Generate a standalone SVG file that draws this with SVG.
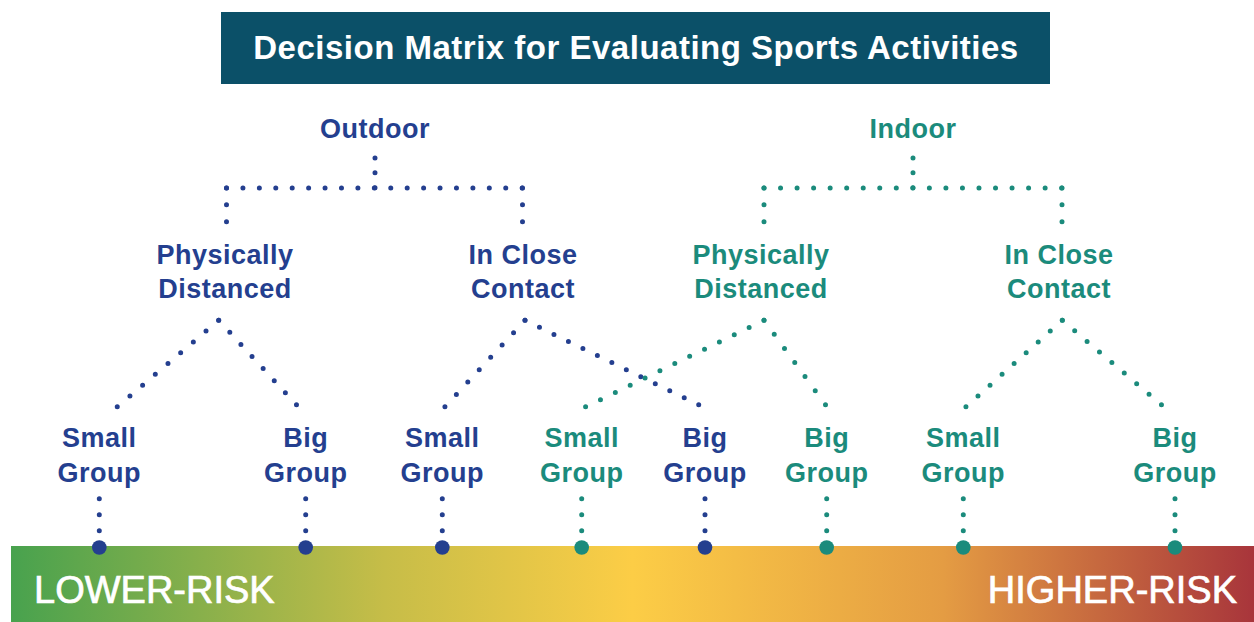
<svg xmlns="http://www.w3.org/2000/svg" width="1254" height="622" viewBox="0 0 1254 622">
<defs>
<linearGradient id="risk" x1="11" y1="0" x2="1254" y2="0" gradientUnits="userSpaceOnUse">
<stop offset="0" stop-color="#48a24e"/>
<stop offset="0.3" stop-color="#c6bd48"/>
<stop offset="0.5" stop-color="#fccd46"/>
<stop offset="0.75" stop-color="#e49c43"/>
<stop offset="1" stop-color="#a8353b"/>
</linearGradient>
</defs>
<style>
.lbl{font-family:"Liberation Sans",Arial,sans-serif;font-weight:bold;font-size:27px;text-anchor:middle;letter-spacing:0.5px}
.b{fill:#243f8f}
.t{fill:#1b8b7c}
.dl{fill:none;stroke-width:5;stroke-linecap:round;stroke-dasharray:0 1}
.sb{stroke:#243f8f}
.st{stroke:#1b8b7c}
.end-b{fill:#243f8f}
.end-t{fill:#1b8b7c}
.risk{font-family:"Liberation Sans",Arial,sans-serif;font-size:38px;fill:#ffffff;stroke:#ffffff;stroke-width:0.7px}
</style>
<rect width="1254" height="622" fill="#ffffff"/>
<g id="title">
<rect x="221" y="12" width="829" height="72" fill="#0b5068"/>
<text x="636" y="59" text-anchor="middle" font-family="'Liberation Sans',Arial,sans-serif" font-size="33" font-weight="bold" letter-spacing="0.5" fill="#ffffff">Decision Matrix for Evaluating Sports Activities</text>
</g>
<g id="risk-bar">
<rect x="11" y="546" width="1243" height="76" fill="url(#risk)"/>
<text class="risk" x="34" y="603">LOWER-RISK</text>
<text class="risk" x="1237" y="603" text-anchor="end">HIGHER-RISK</text>
</g>
<g id="connectors">
<path class="dl sb" d="M375 158 V188" pathLength="2.02"/>
<path class="dl sb" d="M226.5 188 H522.5" pathLength="18.02"/>
<path class="dl sb" d="M226.5 188 V222" pathLength="2.02"/>
<path class="dl sb" d="M522.5 188 V222" pathLength="2.02"/>
<path class="dl st" d="M913 158 V188" pathLength="2.02"/>
<path class="dl st" d="M764 188 H1062" pathLength="18.02"/>
<path class="dl st" d="M764 188 V222" pathLength="2.02"/>
<path class="dl st" d="M1062 188 V222" pathLength="2.02"/>
<path class="dl sb" d="M218.7 320.3 L117 407" pathLength="8.02"/>
<path class="dl sb" d="M218.7 320.3 L296.7 405" pathLength="7.02"/>
<path class="dl sb" d="M525 320.3 L444.7 407" pathLength="7.02"/>
<path class="dl sb" d="M525 320.3 L699 405" pathLength="12.02"/>
<path class="dl st" d="M764 320.3 L585.3 407" pathLength="12.02"/>
<path class="dl st" d="M764 320.3 L825.7 405" pathLength="6.02"/>
<path class="dl st" d="M1062.3 320.3 L965.7 407" pathLength="8.02"/>
<path class="dl st" d="M1062.3 320.3 L1161.7 405" pathLength="8.02"/>
<path class="dl sb" d="M99.3 498.7 V531" pathLength="2.02"/>
<path class="dl sb" d="M305.7 498.7 V531" pathLength="2.02"/>
<path class="dl sb" d="M442.3 498.7 V531" pathLength="2.02"/>
<path class="dl st" d="M581.7 498.7 V531" pathLength="2.02"/>
<path class="dl sb" d="M705 498.7 V531" pathLength="2.02"/>
<path class="dl st" d="M826.7 498.7 V531" pathLength="2.02"/>
<path class="dl st" d="M963.3 498.7 V531" pathLength="2.02"/>
<path class="dl st" d="M1175 498.7 V531" pathLength="2.02"/>
<circle class="end-b" cx="99.3" cy="547.5" r="7.3"/>
<circle class="end-b" cx="305.7" cy="547.5" r="7.3"/>
<circle class="end-b" cx="442.3" cy="547.5" r="7.3"/>
<circle class="end-t" cx="581.7" cy="547.5" r="7.3"/>
<circle class="end-b" cx="705" cy="547.5" r="7.3"/>
<circle class="end-t" cx="826.7" cy="547.5" r="7.3"/>
<circle class="end-t" cx="963.3" cy="547.5" r="7.3"/>
<circle class="end-t" cx="1175" cy="547.5" r="7.3"/>
</g>
<g id="outdoor"><text class="lbl b" x="375" y="138">Outdoor</text></g>
<g id="indoor"><text class="lbl t" x="913" y="138">Indoor</text></g>
<g id="outdoor-distanced"><text class="lbl b" x="225" y="264">Physically</text><text class="lbl b" x="225" y="298">Distanced</text></g>
<g id="outdoor-close"><text class="lbl b" x="523" y="264">In Close</text><text class="lbl b" x="523" y="298">Contact</text></g>
<g id="indoor-distanced"><text class="lbl t" x="761" y="264">Physically</text><text class="lbl t" x="761" y="298">Distanced</text></g>
<g id="indoor-close"><text class="lbl t" x="1059" y="264">In Close</text><text class="lbl t" x="1059" y="298">Contact</text></g>
<g id="out-dist-small"><text class="lbl b" x="99.3" y="447">Small</text><text class="lbl b" x="99.3" y="482">Group</text></g>
<g id="out-dist-big"><text class="lbl b" x="305.7" y="447">Big</text><text class="lbl b" x="305.7" y="482">Group</text></g>
<g id="out-close-small"><text class="lbl b" x="442.3" y="447">Small</text><text class="lbl b" x="442.3" y="482">Group</text></g>
<g id="in-dist-small"><text class="lbl t" x="581.7" y="447">Small</text><text class="lbl t" x="581.7" y="482">Group</text></g>
<g id="out-close-big"><text class="lbl b" x="705" y="447">Big</text><text class="lbl b" x="705" y="482">Group</text></g>
<g id="in-dist-big"><text class="lbl t" x="826.7" y="447">Big</text><text class="lbl t" x="826.7" y="482">Group</text></g>
<g id="in-close-small"><text class="lbl t" x="963.3" y="447">Small</text><text class="lbl t" x="963.3" y="482">Group</text></g>
<g id="in-close-big"><text class="lbl t" x="1175" y="447">Big</text><text class="lbl t" x="1175" y="482">Group</text></g>
</svg>
